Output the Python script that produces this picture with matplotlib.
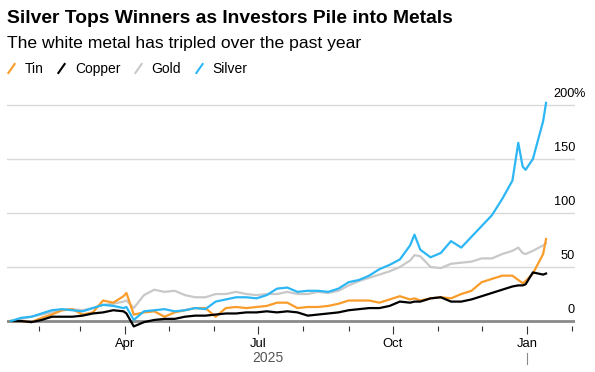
"""Silver tops winners as investors pile into metals."""
import matplotlib
matplotlib.use("Agg")
import matplotlib.pyplot as plt
import matplotlib.dates as mdates
import matplotlib.transforms as mtransforms
from matplotlib.lines import Line2D
import pandas as pd

plt.rcParams["font.family"] = ["Liberation Sans", "DejaVu Sans"]

# ================== Data (% change over the past year) ================== #
dates = pd.to_datetime([
    "2025-01-13", "2025-01-20", "2025-01-27", "2025-02-03", "2025-02-10", "2025-02-17", "2025-02-24",
    "2025-03-03", "2025-03-10", "2025-03-17", "2025-03-24", "2025-03-31", "2025-04-02", "2025-04-07",
    "2025-04-14", "2025-04-21", "2025-04-28", "2025-05-05", "2025-05-12", "2025-05-19", "2025-05-26",
    "2025-06-02", "2025-06-09", "2025-06-16", "2025-06-23", "2025-06-30", "2025-07-07", "2025-07-14",
    "2025-07-21", "2025-07-28", "2025-08-04", "2025-08-11", "2025-08-18", "2025-08-25", "2025-09-01",
    "2025-09-08", "2025-09-15", "2025-09-22", "2025-09-29", "2025-10-06", "2025-10-13", "2025-10-16",
    "2025-10-20", "2025-10-27", "2025-11-03", "2025-11-10", "2025-11-17", "2025-11-24", "2025-12-01",
    "2025-12-08", "2025-12-15", "2025-12-22", "2025-12-26", "2025-12-29", "2025-12-31", "2026-01-05",
    "2026-01-12", "2026-01-14",
])

tin = [
    0, 0, -1, 3, 6, 10, 11,
    6, 8, 19, 17, 23, 26, 6,
    8, 9, 4, 8, 10, 12, 12,
    4, 12, 13, 12, 13, 14, 17,
    17, 12, 13, 13, 14, 16, 19,
    19, 19, 17, 20, 23, 20, 21,
    19, 21, 22, 21, 25, 28, 36,
    39, 42, 42, 38, 35, 37, 44,
    62, 76,
]
copper = [
    0, 0, -1, 1, 4, 4, 4,
    5, 7, 8, 10, 9, 7, -5,
    -1, 1, 2, 2, 4, 5, 5,
    6, 7, 7, 8, 8, 9, 8,
    9, 8, 5, 6, 7, 8, 10,
    11, 12, 12, 14, 18, 17, 18,
    18, 21, 22, 18, 18, 20, 23,
    26, 29, 32, 33, 33, 34, 45,
    43, 44,
]
gold = [
    0, 2, 4, 6, 8, 10, 11,
    10, 12, 15, 16, 18, 19, 12,
    24, 29, 27, 28, 24, 22, 22,
    25, 25, 27, 25, 24, 25, 25,
    27, 25, 25, 27, 26, 28, 33,
    37, 40, 43, 46, 50, 56, 61,
    60, 50, 49, 53, 54, 55, 58,
    58, 62, 65, 68, 63, 62, 65,
    70, 72,
]
silver = [
    0, 3, 4, 7, 10, 11, 10,
    9, 12, 15, 14, 12, 13, 1,
    9, 10, 11, 9, 10, 12, 11,
    18, 20, 22, 22, 21, 24, 30,
    31, 27, 28, 28, 27, 30, 36,
    38, 42, 48, 52, 57, 70, 80,
    66, 59, 63, 74, 68, 78, 88,
    98, 113, 130, 165, 143, 140, 150,
    185, 202,
]

series = {"Tin": tin, "Copper": copper, "Gold": gold, "Silver": silver}
colors = {"Tin": "#fa9c2a", "Copper": "#000000", "Gold": "#c8c8c8", "Silver": "#2cb7f4"}
draw_order = ["Gold", "Tin", "Copper", "Silver"]
y_ticks = [0, 50, 100, 150, 200]

# ================== Figure ================== #
fig = plt.figure(figsize=(5.95, 3.72), dpi=100)
ax = fig.add_axes([7 / 595, 38 / 372, 568 / 595, 239.8 / 372])

for name in draw_order:
    ax.plot(dates, series[name], color=colors[name], lw=1.6, zorder=3,
            solid_joinstyle="round")

start = mdates.date2num(pd.Timestamp("2025-01-01"))
ax.set_xlim(start + 9.3, start + 397.8)
ax.set_ylim(-12, 210)

# grid + zero line
for v in y_ticks[1:]:
    ax.axhline(v, color="#d9d9d9", lw=1, zorder=1)
ax.axhline(0, color="#8a8a8a", lw=2, zorder=2)

# y labels sit above the gridlines, inside on the right
lab_trans = mtransforms.offset_copy(ax.get_yaxis_transform(), fig=fig, y=5, units="dots")
pct_trans = mtransforms.offset_copy(ax.get_yaxis_transform(), fig=fig, x=-1.5, y=5, units="dots")
for v in y_ticks:
    ax.text(1.0, v, f"{v}", transform=lab_trans, ha="right", va="bottom", fontsize=9.2)
ax.text(1.0, y_ticks[-1], "%", transform=pct_trans, ha="left", va="bottom", fontsize=9.2)
ax.set_yticks([])

# x axis
for side in ["top", "right", "left"]:
    ax.spines[side].set_visible(False)
ax.spines["bottom"].set_position(("data", -5))
ax.spines["bottom"].set_visible(False)
ax.xaxis.set_major_locator(mdates.MonthLocator(bymonth=[1, 4, 7, 10]))
ax.xaxis.set_minor_locator(mdates.MonthLocator())
ax.xaxis.set_major_formatter(mdates.DateFormatter("%b"))
ax.tick_params(axis="x", which="major", length=5.5, width=0.8, color="#333333",
               pad=3, labelsize=9.4)
ax.tick_params(axis="x", which="minor", length=3.5, width=0.8, color="#333333")

ax.text(mdates.date2num(pd.Timestamp("2025-07-08")), -0.1, "2025",
        transform=ax.get_xaxis_transform(), ha="center", va="center",
        fontsize=10, color="#555555")
ax.axvline(pd.Timestamp("2026-01-01"), ymin=-0.125, ymax=-0.08, color="#888888",
           lw=0.8, clip_on=False)

# ================== Titles + legend ================== #
fig.text(7 / 595, 1 - 23 / 372, "Silver Tops Winners as Investors Pile into Metals",
         fontsize=13.9, fontweight="bold", va="baseline")
fig.text(7 / 595, 1 - 48 / 372, "The white metal has tripled over the past year",
         fontsize=12.6, va="baseline")

handles = [Line2D([], [], ls="none", marker=[(-0.35, -0.5), (0.35, 0.5)],
                  markersize=7.7, markeredgewidth=1.5, color=colors[n])
           for n in series]
fig.legend(handles, list(series), loc="center left", bbox_to_anchor=(4 / 595, 1 - 69 / 372),
           ncol=4, frameon=False, fontsize=10, handlelength=1.0, handletextpad=0.5,
           columnspacing=0.75, borderpad=0, borderaxespad=0)

fig.savefig("out.png", dpi=100)
